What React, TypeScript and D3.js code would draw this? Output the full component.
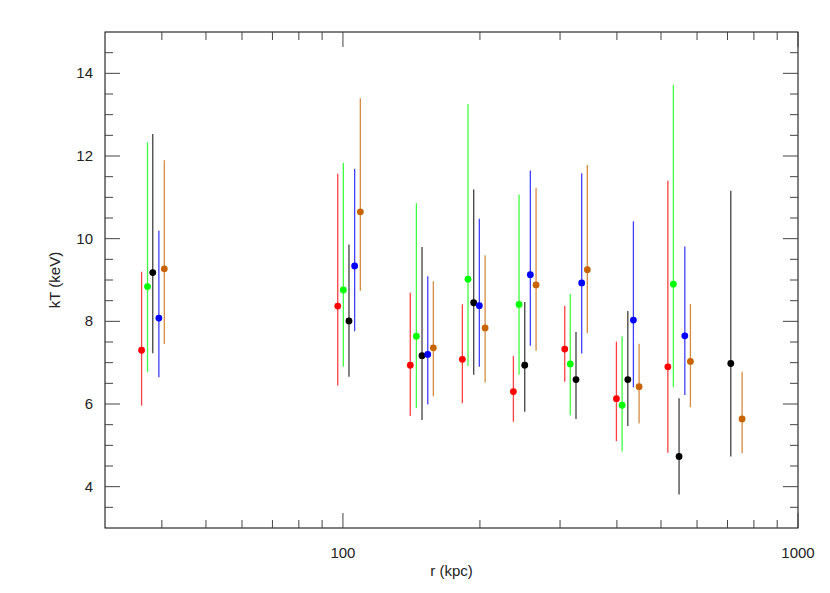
import React from 'react';
import * as d3 from 'd3';

// radius (kpc), temperature (keV) and the error bar ends, one set per series
const redR = [36.1, 97.4, 140.6, 183.0, 236.9, 307.2, 399.0, 517.6];
const redT = [7.30, 8.37, 6.94, 7.08, 6.30, 7.33, 6.13, 6.90];
const redLo = [5.96, 6.45, 5.71, 6.02, 5.57, 6.54, 5.10, 4.82];
const redHi = [9.20, 11.57, 8.69, 8.41, 7.16, 8.38, 7.51, 11.40];

const greenR = [37.2, 100.2, 145.0, 188.3, 243.8, 315.9, 410.7, 532.3];
const greenT = [8.84, 8.76, 7.64, 9.02, 8.41, 6.97, 5.97, 8.90];
const greenLo = [6.77, 6.90, 5.90, 6.92, 6.71, 5.73, 4.85, 6.41];
const greenHi = [12.33, 11.83, 10.86, 13.26, 11.07, 8.66, 7.64, 13.72];

const blackR = [38.2, 103.1, 149.2, 193.8, 250.9, 325.2, 422.7, 547.8, 711.7];
const blackT = [9.18, 8.01, 7.17, 8.45, 6.94, 6.59, 6.59, 4.73, 6.98];
const blackLo = [7.23, 6.66, 5.61, 6.71, 5.81, 5.64, 5.47, 3.81, 4.73];
const blackHi = [12.53, 9.86, 9.80, 11.19, 8.47, 7.74, 8.25, 6.14, 11.16];

const blueR = [39.4, 106.1, 153.6, 199.4, 258.1, 334.7, 434.8, 564.0];
const blueT = [8.08, 9.34, 7.20, 8.38, 9.13, 8.93, 8.03, 7.65];
const blueLo = [6.65, 7.76, 5.99, 6.90, 7.41, 7.22, 6.40, 6.22];
const blueHi = [10.19, 11.69, 9.09, 10.48, 11.65, 11.58, 10.42, 9.81];

const orangeR = [40.5, 109.2, 158.0, 205.3, 265.7, 344.4, 447.5, 580.2, 753.6];
const orangeT = [9.27, 10.65, 7.36, 7.84, 8.88, 9.25, 6.42, 7.03, 5.64];
const orangeLo = [7.45, 8.74, 6.19, 6.52, 7.29, 7.71, 5.53, 5.92, 4.81];
const orangeHi = [11.90, 13.40, 8.97, 9.60, 11.23, 11.78, 7.46, 8.42, 6.78];

const xMajor = [100, 1000];
const xMinor = [40, 50, 60, 70, 80, 90, 200, 300, 400, 500, 600, 700, 800, 900];
const yMajor = [4, 6, 8, 10, 12, 14];

const series = [
  { color: '#ff0000', r: redR, t: redT, lo: redLo, hi: redHi },
  { color: '#00ff00', r: greenR, t: greenT, lo: greenLo, hi: greenHi },
  { color: '#000000', r: blackR, t: blackT, lo: blackLo, hi: blackHi },
  { color: '#0000ff', r: blueR, t: blueT, lo: blueLo, hi: blueHi },
  { color: '#c86400', r: orangeR, t: orangeT, lo: orangeLo, hi: orangeHi },
];

const W = 830;
const H = 593;
const margin = { top: 32, right: 32, bottom: 65, left: 105 };
const font = '"Liberation Sans", Arial, sans-serif';

const App = () => {
  const x = d3.scaleLog().domain([30, 1000]).range([margin.left, W - margin.right]);
  const y = d3.scaleLinear().domain([3, 15]).range([H - margin.bottom, margin.top]);
  const [x0, x1] = x.range();
  const [y0, y1] = y.range();
  const yMinor = d3.range(3, 15.01, 0.5).filter((v) => !yMajor.includes(v) && v > 3 && v < 15);

  const bigTick = 15;
  const smallTick = 8;
  const tickColor = '#444';

  return (
    <svg width={W} height={H} style={{ position: 'absolute', left: 0, top: 0, background: '#fff' }}>
      {/* series */}
      {series.map((s) => (
        <g key={s.color}>
          {s.r.map((r, i) => (
            <g key={i}>
              <line
                x1={x(r)} x2={x(r)}
                y1={y(s.lo[i])} y2={y(s.hi[i])}
                stroke={s.color} strokeWidth={1.3} strokeOpacity={0.75}
              />
              <circle cx={x(r)} cy={y(s.t[i])} r={3.4} fill={s.color} />
            </g>
          ))}
        </g>
      ))}

      {/* frame */}
      <rect x={x0} y={y1} width={x1 - x0} height={y0 - y1} fill="none" stroke="#000" strokeWidth={1} />

      {/* x ticks */}
      {xMajor.concat(xMinor).map((v) => {
        const len = xMajor.includes(v) ? bigTick : smallTick;
        return (
          <g key={`x${v}`} stroke={tickColor} strokeWidth={1}>
            <line x1={x(v)} x2={x(v)} y1={y0} y2={y0 - len} />
            <line x1={x(v)} x2={x(v)} y1={y1} y2={y1 + len} />
          </g>
        );
      })}
      {xMajor.map((v) => (
        <text key={`xl${v}`} x={x(v)} y={y0 + 30} textAnchor="middle"
          fontFamily={font} fontSize={15} fill="#222">{v}</text>
      ))}

      {/* y ticks */}
      {yMajor.concat(yMinor).map((v) => {
        const len = yMajor.includes(v) ? bigTick : smallTick;
        return (
          <g key={`y${v}`} stroke={tickColor} strokeWidth={1}>
            <line x1={x0} x2={x0 + len} y1={y(v)} y2={y(v)} />
            <line x1={x1} x2={x1 - len} y1={y(v)} y2={y(v)} />
          </g>
        );
      })}
      {yMajor.map((v) => (
        <text key={`yl${v}`} x={x0 - 12} y={y(v) + 5} textAnchor="end"
          fontFamily={font} fontSize={15} fill="#222">{v}</text>
      ))}

      {/* axis titles */}
      <text x={(x0 + x1) / 2} y={y0 + 48} textAnchor="middle" fontFamily={font} fontSize={15} fill="#222">
        r  (kpc)
      </text>
      <text transform={`translate(60, ${(y0 + y1) / 2}) rotate(-90)`} textAnchor="middle"
        fontFamily={font} fontSize={15} fill="#222">
        kT  (keV)
      </text>
    </svg>
  );
};

export default App;
